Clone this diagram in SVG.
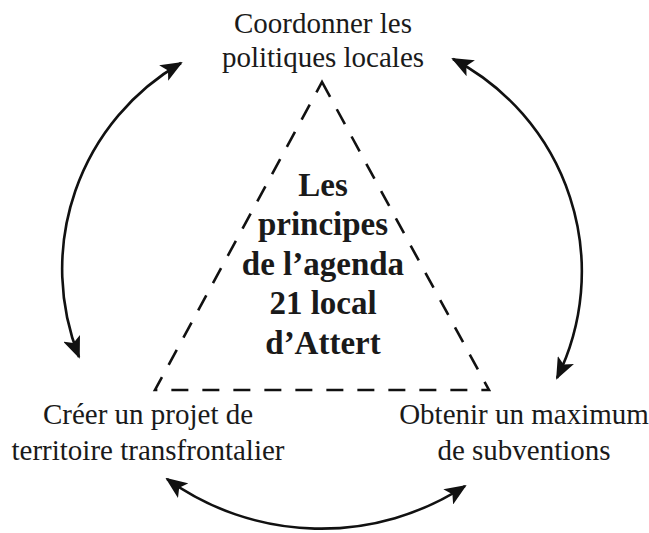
<svg xmlns="http://www.w3.org/2000/svg" width="649" height="533" viewBox="0 0 649 533">
<defs>
<style>
.lbl{font-family:"Liberation Serif","Times New Roman",serif;font-size:29px;fill:#1a1a1a;text-anchor:middle}
.ctr{font-family:"Liberation Serif","Times New Roman",serif;font-size:33px;font-weight:bold;fill:#1a1a1a;text-anchor:middle}
.arc{fill:none;stroke:#111;stroke-width:2.6;marker-start:url(#ah);marker-end:url(#ah)}
.tri{fill:none;stroke:#111;stroke-width:2.6;stroke-dasharray:17 14}
</style>
<marker id="ah" viewBox="0 0 22 18" markerWidth="22" markerHeight="18" refX="20" refY="9" orient="auto-start-reverse" markerUnits="userSpaceOnUse">
<path d="M0,0 L22,9 L0,18 L5,9 z" fill="#111"/>
</marker>
</defs>
<rect width="649" height="533" fill="#fff"/>
<g id="triangle">
<path class="tri" d="M322,82 L489,390 L155,390 Z"/>
</g>
<g id="node-center">
<text class="ctr" x="323" y="196">Les</text>
<text class="ctr" x="323" y="235">principes</text>
<text class="ctr" x="323" y="275">de l’agenda</text>
<text class="ctr" x="323" y="314">21 local</text>
<text class="ctr" x="323" y="354">d’Attert</text>
</g>
<g id="node-top">
<text class="lbl" x="323" y="33">Coordonner les</text>
<text class="lbl" x="323" y="67">politiques locales</text>
</g>
<g id="node-left">
<text class="lbl" x="148" y="424">Créer un projet de</text>
<text class="lbl" x="148" y="460">territoire transfrontalier</text>
</g>
<g id="node-right">
<text class="lbl" x="524" y="424">Obtenir un maximum</text>
<text class="lbl" x="524" y="460">de subventions</text>
</g>
<g id="connectors">
<path class="arc" d="M181,63 A238,238 0 0 0 79,357"/>
<path class="arc" d="M453,59 A240,240 0 0 1 557,378"/>
<path class="arc" d="M167,479 A264,264 0 0 0 465,486"/>
</g>
</svg>
